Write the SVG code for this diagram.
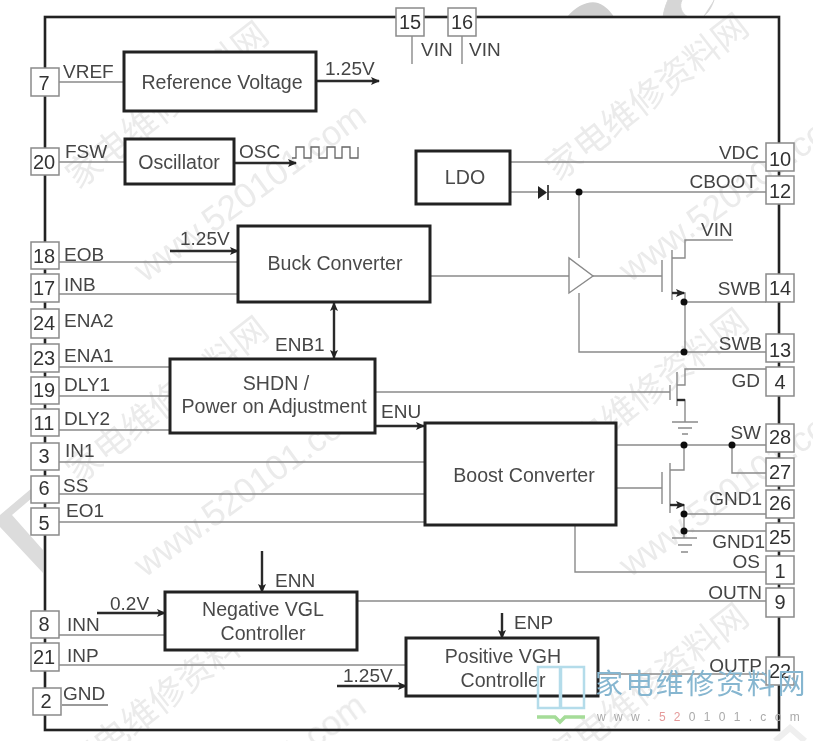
<svg xmlns="http://www.w3.org/2000/svg" width="813" height="741" viewBox="0 0 813 741">
<style>
text{font-family:"Liberation Sans",Arial,sans-serif;fill:#3c3c3c}
.pin rect{fill:#fff;stroke:#8a8a8a;stroke-width:1.5}
.pin text{font-size:20px;text-anchor:middle;fill:#333}
.block rect{fill:#fff;stroke:#222;stroke-width:3}
.block text{font-size:19.6px;text-anchor:middle;fill:#4a4a4a}
.lbl{font-size:19px;fill:#444}
.r{text-anchor:end}
.thin{fill:none;stroke:#8a8a8a;stroke-width:1.4}
.thick{fill:none;stroke:#2a2a2a;stroke-width:2.4}
.dot{fill:#111}
.wm{font-size:35px;fill:#ebebeb;font-family:"Noto Sans CJK SC",sans-serif}
.wn{font-size:35px;fill:#ebebeb}
</style>
<defs>
<filter id="soft" x="0" y="0" width="100%" height="100%"><feGaussianBlur stdDeviation="0.7"/></filter>
<marker id="ah" markerWidth="9" markerHeight="9" refX="8" refY="4" orient="auto-start-reverse" markerUnits="userSpaceOnUse"><path d="M0 0L9 4L0 8L2 4z" fill="#222"/></marker>
</defs>
<rect width="813" height="741" fill="#fff"/>
<g filter="url(#soft)">
<g id="background-marks">
<path d="M0 515L32 488V498L12 515L43 550V573L0 527z" fill="#dcdcdc"/>
<path d="M567 17C576 5 590 0 598 3C606 6 611 12 614 17z" fill="#cfcfcf"/>
<path d="M663 17C664 10 666 4 668 0H682C679 6 681 13 688 17zM703 17C709 12 712 6 714 0" fill="#d6d6d6" stroke="#d6d6d6" stroke-width="1"/>
<path d="M775 741L790 728L805 741" fill="none" stroke="#efefef" stroke-width="6"/>
<g id="watermarks">
<text class="wm" transform="translate(78,190) rotate(-38)">家电维修资料网</text>
<text class="wm" transform="translate(78,485) rotate(-38)">家电维修资料网</text>
<text class="wm" transform="translate(78,780) rotate(-38)">家电维修资料网</text>
<text class="wm" transform="translate(558,182) rotate(-38)">家电维修资料网</text>
<text class="wm" transform="translate(558,477) rotate(-38)">家电维修资料网</text>
<text class="wm" transform="translate(558,772) rotate(-38)">家电维修资料网</text>
<text class="wn" transform="translate(145,283) rotate(-36)">www.520101.com</text>
<text class="wn" transform="translate(145,578) rotate(-36)">www.520101.com</text>
<text class="wn" transform="translate(145,873) rotate(-36)">www.520101.com</text>
<text class="wn" transform="translate(630,283) rotate(-36)">www.520101.com</text>
<text class="wn" transform="translate(630,578) rotate(-36)">www.520101.com</text>
</g>
</g>
<rect id="package" x="45" y="17" width="734" height="713" fill="none" stroke="#222" stroke-width="2.6"/>
<g id="connectors">
<path class="thin" d="M59 82H124M59 162H125M59 262H238M59 294H238M59 367H170M59 396H170M59 430H170M59 462H425M59 494H425M59 522H425M59 635H165M59 665H406M412 36V64M462 36V64M510 162H766M510 192H538M548 192H766M579 192V258M430 276H569M593 276H662M579 293V352H766M662 260V292M672 250V300M672 258H685V240H733M672 293H685V352M685 302H766M375 392H670M670 385V400M677 372V406M677 385H685V369H766M677 400H685V422M672 422H698M678 428H692M682 434H688M616 445H766M684 445V470H670M670 463V513M662 472V504M616 488H662M732 445V473H766M670 505H684V531M684 514H766M684 531H766M684 531V538M672 538H697M678 545H692M681 552H688M575 525V572H766M357 601H766M598 674H766"/>
<path class="thin" d="M569 258V293L593 276z" fill="#fff"/>
<path d="M62 705H108" fill="none" stroke="#9a9a9a" stroke-width="2"/>
<path class="thick" d="M316 81H379" marker-end="url(#ah)"/>
<path class="thick" d="M234 163H296" marker-end="url(#ah)"/>
<path class="thick" d="M170 251H238" marker-end="url(#ah)"/>
<path class="thick" d="M334 303V358" stroke-width="3" marker-start="url(#ah)" marker-end="url(#ah)"/>
<path class="thick" d="M375 426H424" marker-end="url(#ah)"/>
<path class="thick" d="M97 613H165" marker-end="url(#ah)"/>
<path class="thick" d="M262 551V592" marker-end="url(#ah)"/>
<path class="thick" d="M337 686H406" marker-end="url(#ah)"/>
<path class="thick" d="M502 613V638" stroke-width="1.6" marker-end="url(#ah)"/>
<path class="thick" d="M672 293H684" stroke-width="2" marker-end="url(#ah)"/>
<path class="thick" d="M677 400H685" stroke-width="2.4"/>
<path class="thick" d="M670 505H684" stroke-width="2" marker-end="url(#ah)"/>
<path d="M538 186L547 192.500L538 199z" fill="#222"/><path d="M548 185V200" stroke="#222" stroke-width="1.6"/>
<path d="M292 158H296V147H304V158H311V147H319V158H327V147H335V158H342V147H350V158H358V147" fill="none" stroke="#666" stroke-width="1.3"/>
<circle class="dot" cx="579" cy="192" r="3.500"/><circle class="dot" cx="684" cy="302" r="3.500"/><circle class="dot" cx="684" cy="352" r="3.500"/><circle class="dot" cx="684" cy="445" r="3.500"/><circle class="dot" cx="732" cy="445" r="3.500"/><circle class="dot" cx="684" cy="514" r="3.500"/><circle class="dot" cx="684" cy="531" r="3.500"/>
</g>
<g id="block-reference" class="block"><rect x="124" y="52" width="192" height="59"/><text x="222" y="89">Reference Voltage</text></g>
<g id="block-oscillator" class="block"><rect x="125" y="139" width="109" height="45"/><text x="179" y="169">Oscillator</text></g>
<g id="block-buck" class="block"><rect x="238" y="226" width="192" height="76"/><text x="335" y="270">Buck Converter</text></g>
<g id="block-ldo" class="block"><rect x="416" y="151" width="94" height="53"/><text x="465" y="184">LDO</text></g>
<g id="block-shdn" class="block"><rect x="170" y="359" width="205" height="74"/><text x="276" y="390">SHDN /</text><text x="274" y="413">Power on Adjustment</text></g>
<g id="block-boost" class="block"><rect x="425" y="423" width="191" height="102"/><text x="524" y="482">Boost Converter</text></g>
<g id="block-negative" class="block"><rect x="165" y="592" width="192" height="58"/><text x="263" y="616">Negative VGL</text><text x="263" y="640">Controller</text></g>
<g id="block-positive" class="block"><rect x="406" y="638" width="192" height="58"/><text x="503" y="663">Positive VGH</text><text x="503" y="687">Controller</text></g>
<g id="pins">
<g id="pin-7" class="pin"><rect x="31" y="68" width="28" height="28"/><text x="44" y="90">7</text></g>
<g id="pin-20" class="pin"><rect x="31" y="148" width="28" height="27"/><text x="44" y="169">20</text></g>
<g id="pin-18" class="pin"><rect x="31" y="242" width="28" height="27"/><text x="44" y="263">18</text></g>
<g id="pin-17" class="pin"><rect x="31" y="274" width="28" height="28"/><text x="44" y="295">17</text></g>
<g id="pin-24" class="pin"><rect x="31" y="309" width="28" height="29"/><text x="44" y="330">24</text></g>
<g id="pin-23" class="pin"><rect x="31" y="344" width="28" height="28"/><text x="44" y="365">23</text></g>
<g id="pin-19" class="pin"><rect x="31" y="377" width="28" height="27"/><text x="44" y="397">19</text></g>
<g id="pin-11" class="pin"><rect x="31" y="409" width="28" height="27"/><text x="44" y="430">11</text></g>
<g id="pin-3" class="pin"><rect x="31" y="443" width="28" height="27"/><text x="44" y="463">3</text></g>
<g id="pin-6" class="pin"><rect x="31" y="476" width="28" height="27"/><text x="44" y="495">6</text></g>
<g id="pin-5" class="pin"><rect x="31" y="508" width="28" height="27"/><text x="44" y="530">5</text></g>
<g id="pin-8" class="pin"><rect x="31" y="611" width="28" height="27"/><text x="44" y="631">8</text></g>
<g id="pin-21" class="pin"><rect x="31" y="643" width="28" height="28"/><text x="44" y="664">21</text></g>
<g id="pin-2" class="pin"><rect x="33" y="688" width="28" height="27"/><text x="46" y="708">2</text></g>
<g id="pin-15" class="pin"><rect x="396" y="8" width="28" height="28"/><text x="410" y="29">15</text></g>
<g id="pin-16" class="pin"><rect x="448" y="8" width="28" height="28"/><text x="462" y="29">16</text></g>
<g id="pin-10" class="pin"><rect x="766" y="143" width="28" height="28"/><text x="780" y="166">10</text></g>
<g id="pin-12" class="pin"><rect x="766" y="176" width="28" height="28"/><text x="780" y="198">12</text></g>
<g id="pin-14" class="pin"><rect x="766" y="274" width="28" height="28"/><text x="780" y="295">14</text></g>
<g id="pin-13" class="pin"><rect x="766" y="334" width="28" height="28"/><text x="780" y="357">13</text></g>
<g id="pin-4" class="pin"><rect x="766" y="367" width="28" height="29"/><text x="780" y="389">4</text></g>
<g id="pin-28" class="pin"><rect x="766" y="424" width="28" height="28"/><text x="780" y="444">28</text></g>
<g id="pin-27" class="pin"><rect x="766" y="458" width="28" height="28"/><text x="780" y="479">27</text></g>
<g id="pin-26" class="pin"><rect x="766" y="490" width="28" height="28"/><text x="780" y="510">26</text></g>
<g id="pin-25" class="pin"><rect x="766" y="523" width="28" height="28"/><text x="780" y="544">25</text></g>
<g id="pin-1" class="pin"><rect x="766" y="556" width="28" height="28"/><text x="780" y="578">1</text></g>
<g id="pin-9" class="pin"><rect x="766" y="588" width="28" height="29"/><text x="780" y="609">9</text></g>
<g id="pin-22" class="pin"><rect x="766" y="657" width="28" height="28"/><text x="780" y="678">22</text></g>
</g>
<g id="labels" class="lbl">
<text class="lbl" x="63" y="78">VREF</text><text class="lbl" x="65" y="158">FSW</text><text class="lbl" x="64" y="261">EOB</text><text class="lbl" x="64" y="291">INB</text><text class="lbl" x="64" y="327">ENA2</text><text class="lbl" x="64" y="362">ENA1</text><text class="lbl" x="64" y="391">DLY1</text><text class="lbl" x="64" y="425">DLY2</text><text class="lbl" x="65" y="457">IN1</text><text class="lbl" x="63" y="492">SS</text><text class="lbl" x="66" y="517">EO1</text><text class="lbl" x="67" y="631">INN</text><text class="lbl" x="67" y="662">INP</text><text class="lbl" x="63" y="700">GND</text>
<text class="lbl" x="325" y="75">1.25V</text><text class="lbl" x="239" y="158">OSC</text><text class="lbl" x="180" y="245">1.25V</text><text class="lbl" x="275" y="351">ENB1</text><text class="lbl" x="381" y="418">ENU</text><text class="lbl" x="110" y="610">0.2V</text><text class="lbl" x="275" y="587">ENN</text><text class="lbl" x="514" y="629">ENP</text><text class="lbl" x="343" y="682">1.25V</text>
<text class="lbl" x="421" y="56">VIN</text><text class="lbl" x="469" y="56">VIN</text><text class="lbl" x="701" y="236">VIN</text>
<text class="lbl r" x="759" y="159">VDC</text><text class="lbl r" x="757" y="188">CBOOT</text><text class="lbl r" x="761" y="295">SWB</text><text class="lbl r" x="762" y="350">SWB</text><text class="lbl r" x="760" y="387">GD</text><text class="lbl r" x="761" y="439">SW</text><text class="lbl r" x="762" y="505">GND1</text><text class="lbl r" x="765" y="548">GND1</text><text class="lbl r" x="760" y="568">OS</text><text class="lbl r" x="762" y="599">OUTN</text><text class="lbl r" x="762" y="672">OUTP</text>
</g>
<g id="logo">
<path d="M538 667H560V708H538zM561 667H584V708H561z" fill="none" stroke="#b4dcea" stroke-width="2.500"/>
<path d="M537 717H555L560 722L565 717H585" fill="none" stroke="#a5dc98" stroke-width="3.500"/>
<text x="595" y="694" font-size="28" letter-spacing="2.400" style="font-family:'Noto Sans CJK SC',sans-serif;fill:#86b6d0">家电维修资料网</text>
<text x="597" y="721" font-size="12" letter-spacing="8.300" style="fill:#aaa">www.<tspan style="fill:#e59a9a">52</tspan>0101.com</text>
</g>
</g>
</svg>
